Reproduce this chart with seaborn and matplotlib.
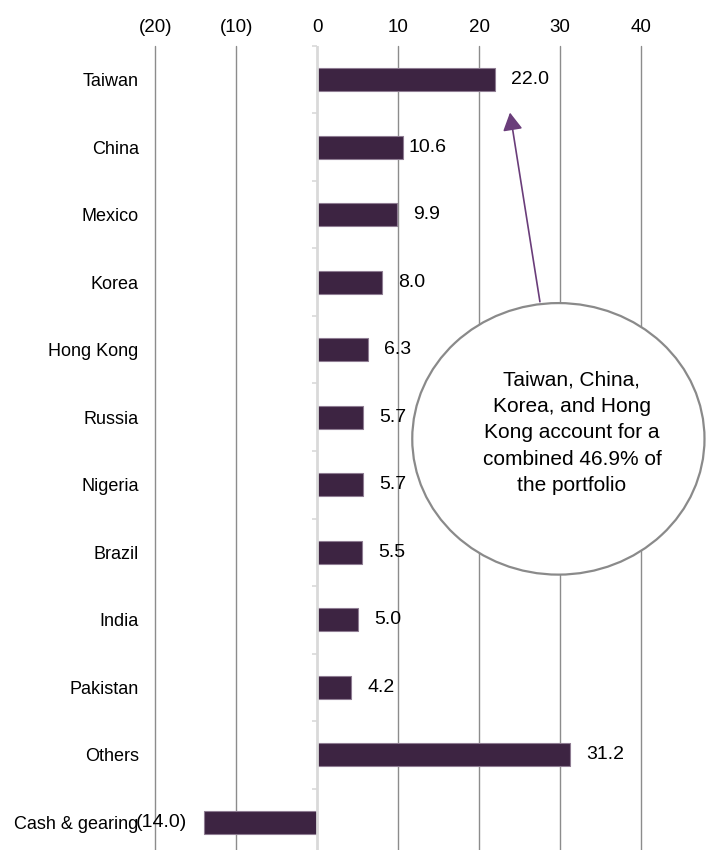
import matplotlib
matplotlib.use("Agg")
import matplotlib.pyplot as plt
from matplotlib.patches import Ellipse
from matplotlib.ticker import FuncFormatter, FixedLocator
import seaborn as sns
import pandas as pd

# ---- data ----
countries = ["Taiwan", "China", "Mexico", "Korea", "Hong Kong", "Russia",
             "Nigeria", "Brazil", "India", "Pakistan", "Others", "Cash & gearing"]
weights = [22.0, 10.6, 9.9, 8.0, 6.3, 5.7, 5.7, 5.5, 5.0, 4.2, 31.2, -14.0]
x_ticks = [-20, -10, 0, 10, 20, 30, 40]
bubble_text = "Taiwan, China,\nKorea, and Hong\nKong account for a\ncombined 46.9% of\nthe portfolio"

df = pd.DataFrame({"country": countries, "weight": weights})

sns.set_theme(style="white")
plt.rcParams["font.family"] = ["Liberation Sans", "DejaVu Sans"]

FS = 13
VFS = 14
BAR = "#3D2442"
GRID = "#8C8C8C"
LIGHT = "#D9D9D9"

fig = plt.figure(figsize=(7.07, 8.5), dpi=100)
ax = fig.add_axes([0.2198, -0.0074, 0.6870, 0.9536])

sns.barplot(data=df, x="weight", y="country", orient="h", color=BAR,
            saturation=1, width=0.34, edgecolor="#8E7C92", linewidth=0.8, ax=ax)

ax.set_xlim(-20, 40)
ax.set_ylim(len(countries) - 0.5, -0.5)
ax.set_xlabel("")
ax.set_ylabel("")

for s in ax.spines.values():
    s.set_visible(False)

ax.xaxis.set_major_locator(FixedLocator(x_ticks))
ax.xaxis.set_major_formatter(FuncFormatter(
    lambda v, p: f"({abs(v):.0f})" if v < 0 else f"{v:.0f}"))
ax.xaxis.tick_top()
ax.tick_params(axis="x", length=0, pad=7, labelsize=13.5, colors="black")
ax.tick_params(axis="y", length=0, pad=12, labelsize=FS, colors="black")

ax.xaxis.grid(True, color=GRID, linewidth=1.0)
ax.yaxis.grid(False)
ax.set_axisbelow(True)
for t, gl in zip(x_ticks, ax.get_xgridlines()):
    gl.set_clip_on(False)
    if t == 0:
        gl.set_visible(False)

# category axis line at zero with small boundary ticks
ax.axvline(0, color=LIGHT, linewidth=2, zorder=1)
bounds = [i - 0.5 for i in range(len(countries) + 1)]
ax.hlines(bounds, -0.7, 0, color=LIGHT, linewidth=1.2, zorder=1, clip_on=False)

# value labels
nudge = {"China": 5}
for i, (c, v) in enumerate(zip(countries, weights)):
    if v >= 0:
        off = nudge.get(c, 16)
        ax.annotate(f"{v:.1f}", xy=(v, i), xytext=(off * 0.72, 0),
                    textcoords="offset points", ha="left", va="center",
                    fontsize=VFS, color="black")
    else:
        ax.annotate(f"({abs(v):.1f})", xy=(v, i), xytext=(-17 * 0.72, 0),
                    textcoords="offset points", ha="right", va="center",
                    fontsize=VFS, color="black")

# callout bubble
ell = Ellipse((29.78, 5.32), 36.1, 4.02, facecolor="white", edgecolor="#8A8A8A",
              linewidth=1.6, zorder=5, clip_on=False)
ax.add_patch(ell)
ax.text(31.45, 5.23, bubble_text, ha="center", va="center", fontsize=15,
        linespacing=1.5, zorder=6, color="black")

ax.annotate("", xy=(23.8, 0.49), xytext=(27.5, 3.29),
            arrowprops=dict(arrowstyle="-|>,head_length=0.9,head_width=0.5",
                            color="#6A3D7A", linewidth=1.2, shrinkA=0, shrinkB=0),
            zorder=4)

fig.savefig("out.png", dpi=100)
